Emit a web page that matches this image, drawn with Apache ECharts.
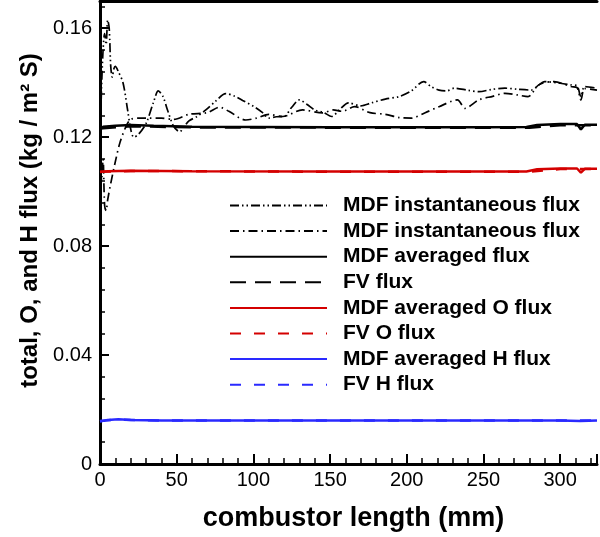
<!DOCTYPE html>
<html>
<head>
<meta charset="utf-8">
<script src="https://cdn.jsdelivr.net/npm/echarts@6/dist/echarts.min.js"></script>
<style>
  html, body { margin: 0; padding: 0; background: #fff; }
  #chart { width: 600px; height: 537px; }
</style>
</head>
<body>
<div id="chart"></div>
<script>
// values: [combustor length (mm), flux (kg / m2 S)]
var mdfInstA = [[0,0.118],[1,0.138],[2,0.152],[3,0.158],[4,0.154],[5,0.163],[6,0.160],[7,0.146],[8,0.142],[9,0.145],
  [10,0.146],[12,0.144],[15,0.140],[18,0.130],[20,0.123],[22,0.120],[25,0.121],[30,0.125],[35,0.133],[38,0.137],
  [41,0.135],[44,0.130],[48,0.124],[52,0.122],[55,0.124],[58,0.126],[63,0.1275],[69,0.130],[75,0.133],[82,0.136],
  [88,0.135],[93,0.1335],[101,0.131],[106,0.129],[110,0.127],[115,0.1275],[120,0.1276],[125,0.131],[130,0.1337],
  [135,0.132],[140,0.130],[146,0.129],[151,0.1276],[156,0.130],[162,0.1326],[170,0.1315],[177,0.1326],[186,0.134],
  [195,0.1349],[203,0.137],[211,0.1404],[216,0.1385],[221,0.1373],[226,0.137],[231,0.138],[240,0.1372],[247,0.1367],
  [255,0.1375],[264,0.138],[272,0.1376],[281,0.1373],[290,0.1404],[300,0.1398],[307,0.1392],[311,0.1388],
  [313.5,0.1349],[316,0.1386],[324,0.138]];
var mdfInstB = [[0,0.121],[1,0.104],[2,0.112],[3,0.095],[4,0.093],[5,0.097],[7,0.103],[10,0.111],[13,0.118],[17,0.124],
  [20,0.1265],[25,0.127],[30,0.127],[40,0.127],[48,0.1265],[58,0.1284],[70,0.129],[78,0.131],[84,0.1295],[95,0.1263],
  [102,0.127],[110,0.1284],[119,0.1276],[132,0.130],[145,0.1289],[152,0.130],[158,0.1295],[166,0.1312],[176,0.129],
  [186,0.1284],[195,0.1272],[203,0.127],[212,0.129],[221,0.1312],[233,0.1337],[238,0.1306],[247,0.1337],[256,0.135],
  [264,0.1361],[272,0.1355],[279,0.1349],[286,0.1392],[296,0.1404],[307,0.1386],[311,0.1382],[313.5,0.1337],
  [316,0.1378],[324,0.1373]];
var mdfAvg = [[0,0.1228],[2,0.1238],[10,0.1242],[20,0.1245],[35,0.1242],[60,0.1238],[100,0.1237],[150,0.1236],
  [200,0.1236],[250,0.1236],[278,0.1237],[285,0.1245],[300,0.1248],[311,0.1248],[313.5,0.1228],[316,0.1246],[324,0.1246]];
var fvFlux = [[0,0.1232],[20,0.1240],[60,0.1236],[150,0.1235],[280,0.1235],[300,0.1244],[324,0.1244]];
var mdfAvgO = [[0,0.1072],[5,0.1075],[20,0.1077],[60,0.1075],[150,0.1074],[278,0.1074],[285,0.1082],[300,0.1085],
  [311,0.1085],[313.5,0.1070],[316,0.1084],[324,0.1084]];
var fvO = [[0,0.1073],[20,0.1076],[150,0.1073],[280,0.1073],[300,0.1083],[324,0.1083]];
var mdfAvgH = [[0,0.0156],[5,0.0162],[12,0.0164],[20,0.0162],[40,0.016],[100,0.016],[200,0.016],[300,0.016],
  [313,0.0158],[324,0.016]];
var fvH = [[0,0.0158],[10,0.0163],[40,0.016],[324,0.016]];

var xTicks = [0, 50, 100, 150, 200, 250, 300];
var yTicks = [0, 0.04, 0.08, 0.12, 0.16];

var FONT = 'Liberation Sans, Arial, sans-serif';
var RED = '#d40000';
var BLUE = '#2a2aff';

// name, data, colour, line dash, width, smooth
var lines = [
  ['MDF instantaneous flux', mdfInstA, '#000', [9, 3, 1.5, 3, 1.5, 3], 1.7, 0.3],
  ['MDF instantaneous flux ', mdfInstB, '#000', [9, 4, 1.5, 4], 1.7, 0.3],
  ['MDF averaged flux', mdfAvg, '#000', 'solid', 2.5, false],
  ['FV flux', fvFlux, '#000', [16, 9], 2.5, false],
  ['MDF averaged O flux', mdfAvgO, RED, 'solid', 2.5, false],
  ['FV O flux', fvO, RED, [11, 13], 2.5, false],
  ['MDF averaged H flux', mdfAvgH, BLUE, 'solid', 2.5, false],
  ['FV H flux', fvH, BLUE, [11, 13], 2.5, false]
];

var chart = echarts.init(document.getElementById('chart'), null, { renderer: 'canvas' });

var series = lines.map(function (l) {
  return {
    name: l[0],
    type: 'line',
    data: l[1],
    showSymbol: false,
    symbol: 'none',
    smooth: l[5],
    animation: false,
    lineStyle: { color: l[2], type: l[3], width: l[4] },
    itemStyle: { color: l[2] }
  };
});

var legends = lines.map(function (l, i) {
  return {
    data: [l[0]],
    left: 229,
    top: 195 + i * 25.6,
    itemWidth: 97,
    itemHeight: 14,
    padding: 0,
    selectedMode: false,
    itemStyle: { opacity: 0 },
    formatter: function (n) { return n.trim(); },
    textStyle: { fontFamily: FONT, fontWeight: 'bold', fontSize: 21, color: '#000', padding: [0, 0, 0, 11] }
  };
});

var axisLineStyle = { color: '#000', width: 3 };

chart.setOption({
  backgroundColor: '#fff',
  animation: false,
  grid: { left: 100, right: 0, top: 1, bottom: 73, containLabel: false },
  legend: legends,
  xAxis: [{
    type: 'value', min: 0, max: 324, interval: 50, position: 'bottom',
    name: 'combustor length (mm)', nameLocation: 'middle', nameGap: 41,
    nameTextStyle: { fontFamily: FONT, fontWeight: 'bold', fontSize: 27, color: '#000', padding: [0, 0, 0, 10] },
    axisLine: { onZero: false, lineStyle: axisLineStyle },
    axisTick: { inside: true, length: 10, lineStyle: { color: '#000', width: 2 } },
    axisLabel: {
      margin: 6, fontFamily: FONT, fontSize: 20, color: '#000',
      formatter: function (v) { return xTicks.indexOf(v) >= 0 ? String(v) : ''; }
    },
    splitLine: { show: false }
  }, {
    type: 'value', min: 0, max: 324, interval: 10, position: 'bottom',
    axisLine: { show: false, onZero: false },
    axisTick: { inside: true, length: 6, lineStyle: { color: '#000', width: 1.5 } },
    axisLabel: { show: false }, splitLine: { show: false }
  }, {
    type: 'value', min: 0, max: 324, position: 'top',
    axisLine: { onZero: false, lineStyle: axisLineStyle },
    axisTick: { show: false }, axisLabel: { show: false }, splitLine: { show: false }
  }],
  yAxis: [{
    type: 'value', min: 0, max: 0.17, interval: 0.04, position: 'left',
    name: 'total, O, and H flux (kg / m² S)', nameLocation: 'middle', nameGap: 55,
    nameTextStyle: { fontFamily: FONT, fontWeight: 'bold', fontSize: 24, color: '#000', padding: [0, 0, 0, 24] },
    axisLine: { onZero: false, lineStyle: axisLineStyle },
    axisTick: { inside: true, length: 9, lineStyle: { color: '#000', width: 2 } },
    axisLabel: {
      margin: 8, fontFamily: FONT, fontSize: 20, color: '#000',
      formatter: function (v) {
        for (var i = 0; i < yTicks.length; i++) {
          if (Math.abs(v - yTicks[i]) < 1e-9) return String(yTicks[i]);
        }
        return '';
      }
    },
    splitLine: { show: false }
  }, {
    type: 'value', min: 0, max: 0.17, interval: 0.008, position: 'left',
    axisLine: { show: false, onZero: false },
    axisTick: { inside: true, length: 5, lineStyle: { color: '#000', width: 1.5 } },
    axisLabel: { show: false }, splitLine: { show: false }
  }],
  series: series
});
</script>
</body>
</html>
